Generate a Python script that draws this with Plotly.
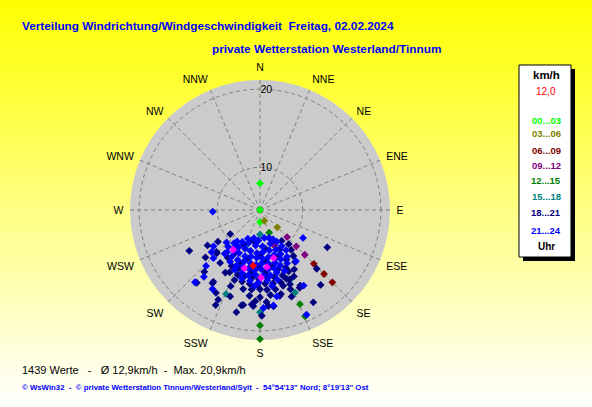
import plotly.graph_objects as go

# ---------------- data ----------------
DIRECTIONS = ["N", "NNE", "NE", "ENE", "E", "ESE", "SE", "SSE",
              "S", "SSW", "SW", "WSW", "W", "WNW", "NW", "NNW"]
DIR_ANGLES = [0, 22.5, 45, 67.5, 90, 112.5, 135, 157.5,
              180, 202.5, 225, 247.5, 270, 292.5, 315, 337.5]
RING_SPEEDS = [10, 20]
RING_LABELS = ["10", "20"]
SPEED_MAX = 21.0

BANDS = ["00...03", "03...06", "06...09", "09...12",
         "12...15", "15...18", "18...21", "21...24"]
BAND_COLORS = ["#00ff00", "#808000", "#800000", "#800080",
               "#008000", "#008080", "#000080", "#0000ff"]

# direction (deg) / speed (km/h) per time band
dir_00_03 = [0, 0, 180]
spd_00_03 = [7.3, 0.0, 4.3]

dir_03_06 = [158, 135]
spd_03_06 = [4.2, 6.9]

dir_06_09 = [135, 135, 135]
spd_06_09 = [14.7, 16.5, 17.9]

dir_09_12 = [135, 135, 135, 158]
spd_09_12 = [9.3, 11.3, 13.0, 9.3]

dir_12_15 = [158, 157, 157, 180, 180]
spd_12_15 = [6.9, 17.9, 19.4, 19.4, 20.9]

dir_15_18 = [180, 180, 157, 157, 202, 202]
spd_15_18 = [6.9, 17.9, 16.4, 14.7, 16.5, 9.5]

dir_18_21 = [240, 233, 231, 221, 205, 193, 119, 136, 141, 150, 153, 213, 205, 199,
             190, 185, 175, 167, 160, 226, 195, 225, 222, 213, 191, 184, 179, 172,
             159, 152, 157, 201, 217, 209, 229, 236, 208,
             157, 188, 145, 172, 205, 140, 153, 181, 214,
             142, 160, 174, 195, 210, 144, 152, 168, 181, 201, 214,
             146, 156, 163, 175, 188, 200, 207,
             150, 155, 161, 168, 174, 181, 187, 193, 199, 206,
             153, 159, 164, 170, 176, 182, 188, 194, 200,
             158, 163, 169, 175, 180, 186, 192,
             166, 173, 180, 187, 176, 183]
spd_18_21 = [15.4, 11.5, 9.3, 17.2, 18.2, 18.2, 14.8, 15.4, 17.2, 18.4, 16.1, 15.9, 17.5, 16.6,
             17.2, 17.0, 17.2, 16.2, 16.7, 12.6, 8.1, 12.7, 15.6, 16.1, 17.3, 17.2, 18.3, 17.3,
             15.8, 15.9, 14.6, 15.4, 13.4, 14.1, 14.2, 13.0, 16.9,
             8.3, 8.4, 9.2, 9.4, 9.3, 10.3, 10.2, 10.4, 10.3,
             11.2, 11.1, 11.3, 11.2, 11.0, 12.1, 12.0, 12.2, 12.1, 12.0, 12.2,
             12.9, 13.0, 12.8, 12.9, 13.0, 12.8, 12.9,
             13.7, 13.6, 13.8, 13.7, 13.6, 13.8, 13.7, 13.6, 13.7, 13.8,
             14.5, 14.4, 14.6, 14.5, 14.4, 14.6, 14.5, 14.4, 14.5,
             15.2, 15.1, 15.3, 15.2, 15.1, 15.2, 15.3,
             16.0, 15.9, 16.1, 16.0, 16.7, 16.6]

dir_21_24 = [268, 123, 156, 224, 220, 222, 211, 169, 150, 224, 216, 156, 172, 178,
             232, 229, 219, 226, 145,
             162, 171, 183, 192, 203,
             152, 163, 176, 187, 199, 209,
             149, 158, 167, 176, 184, 193, 201, 210, 218,
             147, 155, 163, 170, 177, 184, 191, 198, 206, 213, 221,
             150, 157, 164, 171, 178, 184, 190, 197, 204, 211, 218,
             153, 160, 166, 172, 179, 185, 191, 197, 203, 210,
             158, 165, 171, 177, 184, 190, 196, 203,
             166, 174, 181, 188, 195, 171, 184]
spd_21_24 = [10.7, 11.3, 19.3, 13.5, 16.1, 17.3, 16.7, 16.2, 16.1, 14.9, 9.4, 8.3, 17.2, 17.4,
             12.4, 13.1, 12.0, 10.6, 12.9,
             7.8, 7.6, 8.0, 7.7, 8.1,
             8.9, 8.8, 9.0, 8.9, 8.7, 9.0,
             9.9, 10.0, 9.8, 9.9, 10.1, 9.9, 9.8, 10.0, 9.9,
             10.8, 10.9, 10.7, 10.8, 10.9, 10.8, 10.7, 10.9, 10.8, 10.7, 10.9,
             11.7, 11.6, 11.8, 11.7, 11.6, 11.8, 11.7, 11.6, 11.8, 11.7, 11.6,
             12.5, 12.4, 12.6, 12.5, 12.4, 12.6, 12.5, 12.4, 12.6, 12.5,
             13.3, 13.2, 13.4, 13.3, 13.2, 13.4, 13.3, 13.2,
             14.1, 14.0, 14.2, 14.1, 14.0, 14.8, 14.7]

# highlighted (magenta) values and the current value (red)
dir_marked = [214, 164, 195, 173, 179]
spd_marked = [10.8, 11.1, 12.6, 12.2, 13.6]
dir_current = [187]
spd_current = [12.0]

CURRENT_TEXT = "12,0"
COUNT_TEXT = "1439 Werte   -   Ø 12,9km/h  -  Max. 20,9km/h"

band_dirs = [dir_00_03, dir_03_06, dir_06_09, dir_09_12, dir_12_15, dir_15_18, dir_18_21, dir_21_24]
band_spds = [spd_00_03, spd_03_06, spd_06_09, spd_09_12, spd_12_15, spd_15_18, spd_18_21, spd_21_24]

# ---------------- figure ----------------
W, H = 592, 407
FONT = "Liberation Sans, Arial, sans-serif"
MS = 6


def scale(speeds):
    # the diagram's radial scale grows with speed^1.5
    return [s ** 1.5 for s in speeds]


def px(x):
    return x / W


def py(y):
    return 1 - y / H


fig = go.Figure()

# centre mark
fig.add_trace(go.Scatterpolar(r=[0], theta=[0], mode="markers",
                              marker=dict(symbol="square", size=6, color="#808080"),
                              cliponaxis=False, hoverinfo="skip"))

for i in range(len(BANDS)):
    fig.add_trace(go.Scatterpolar(
        r=scale(band_spds[i]), theta=band_dirs[i], mode="markers",
        marker=dict(symbol="diamond", size=MS, color=BAND_COLORS[i], line=dict(width=0)),
        cliponaxis=False, name=BANDS[i]))

fig.add_trace(go.Scatterpolar(r=scale(spd_marked), theta=dir_marked, mode="markers",
                              marker=dict(symbol="diamond", size=MS, color="#ff00ff"),
                              cliponaxis=False))
fig.add_trace(go.Scatterpolar(r=scale(spd_current), theta=dir_current, mode="markers",
                              marker=dict(symbol="diamond", size=MS, color="#ff0000"),
                              cliponaxis=False))

GRID = "#808080"
fig.update_layout(
    width=W, height=H,
    margin=dict(l=0, r=0, t=0, b=0),
    paper_bgcolor="white",
    showlegend=False,
    font=dict(family=FONT, color="black"),
    polar=dict(
        domain=dict(x=[px(130), px(390)], y=[py(340), py(80)]),
        bgcolor="#cbcbcb",
        angularaxis=dict(direction="clockwise", rotation=90,
                         tickmode="array", tickvals=DIR_ANGLES, ticktext=DIRECTIONS,
                         showline=False, ticks="outside", ticklen=4,
                         tickcolor="rgba(0,0,0,0)",
                         gridcolor=GRID, griddash="4px,3px",
                         gridwidth=1, tickfont=dict(size=10.5, color="black", family=FONT)),
        radialaxis=dict(range=[0, SPEED_MAX ** 1.5], tickmode="array",
                        tickvals=scale(RING_SPEEDS), ticktext=RING_LABELS,
                        showline=False, ticks="", angle=90, side="clockwise", tickangle=90,
                        gridcolor=GRID, griddash="4px,3px", gridwidth=1,
                        tickfont=dict(size=10.5, color="black", family=FONT)),
    ),
)

# background gradient (yellow -> white)
shapes = []
NSTRIP = 60
for k in range(NSTRIP):
    t = (k + 0.5) / NSTRIP
    b = int(round(255 * t))
    shapes.append(dict(type="rect", xref="paper", yref="paper", layer="below",
                       x0=0, x1=1, y0=1 - k / NSTRIP, y1=1 - (k + 1) / NSTRIP - 0.002,
                       fillcolor=f"rgb(255,255,{b})", line=dict(width=0)))
# legend box with shadow
shapes.append(dict(type="rect", xref="paper", yref="paper", layer="above",
                   x0=px(523), x1=px(575), y0=py(69), y1=py(261),
                   fillcolor="black", line=dict(width=0)))
shapes.append(dict(type="rect", xref="paper", yref="paper", layer="above",
                   x0=px(519), x1=px(571), y0=py(65), y1=py(257),
                   fillcolor="white", line=dict(color="black", width=1)))
fig.update_layout(shapes=shapes)

ann = []


def add_text(x, y, text, size, color="black", bold=False, anchor="left"):
    t = text.replace("  ", "\u00a0\u00a0").replace(" ", "\u00a0")
    if bold:
        t = f"<b>{t}</b>"
    ann.append(dict(x=px(x), y=py(y), xref="paper", yref="paper", text=t,
                    showarrow=False, xanchor=anchor, yanchor="middle",
                    font=dict(size=size, color=color, family=FONT)))


add_text(20, 26, "Verteilung Windrichtung/Windgeschwindigkeit  Freitag, 02.02.2024", 11.8, "#0000ff", True)
add_text(210, 49, "private Wetterstation Westerland/Tinnum", 11.8, "#0000ff", True)

add_text(546, 75, "km/h", 11.5, "black", True, "center")
add_text(546, 92, CURRENT_TEXT, 10, "#ff0000", False, "center")
band_y = [120, 134, 150, 165, 181, 196, 212, 230]
for i, lab in enumerate(BANDS):
    add_text(546, band_y[i], lab, 9.5, BAND_COLORS[i], True, "center")
add_text(546, 246, "Uhr", 10, "black", True, "center")

add_text(20, 370, COUNT_TEXT, 11, "black")
add_text(20, 387, "© WsWin32  -  © private Wetterstation Tinnum/Westerland/Sylt  -  54°54'13\" Nord; 8°19'13\" Ost",
         7.8, "#0000ff", True)

fig.update_layout(annotations=ann)
fig.write_html("out.html", config={"displayModeBar": False, "staticPlot": True},
               post_script="document.body.style.margin='0px';document.body.style.overflow='hidden';")
